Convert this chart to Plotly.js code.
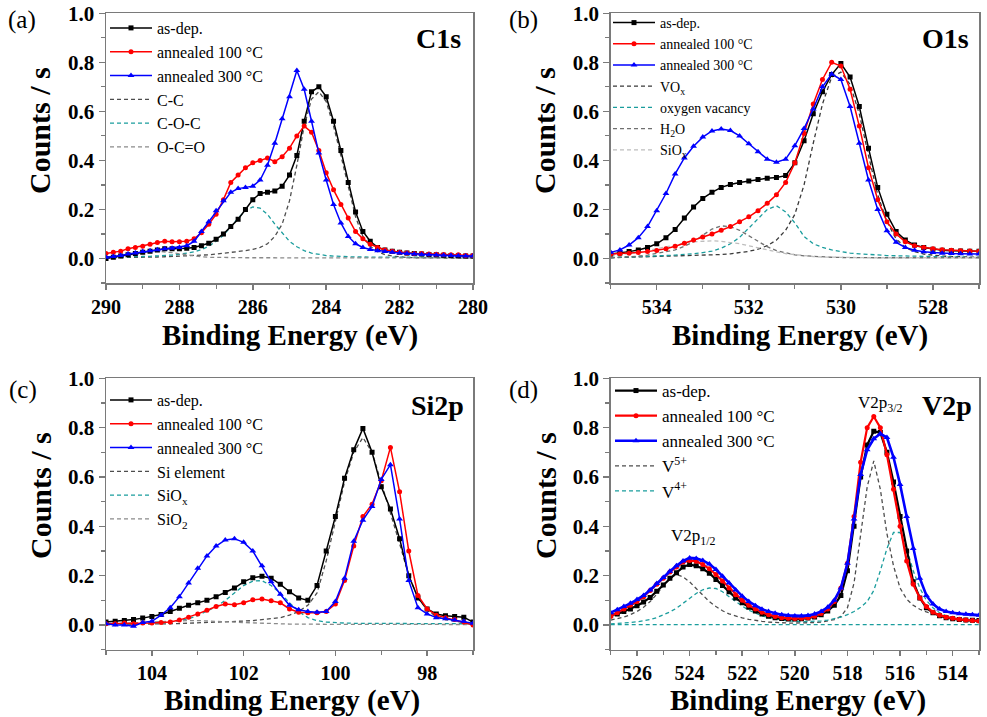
<!DOCTYPE html>
<html>
<head>
<meta charset="utf-8">
<script src="https://cdn.plot.ly/plotly-3.0.1.min.js"></script>
<style>
  html, body { margin: 0; padding: 0; background: #fff; }
  #chart { width: 987px; height: 717px; }
</style>
</head>
<body>
<div id="chart"></div>
<script>
// ---------- C1s ----------
const c1sEnergy = [290,289.8,289.6,289.4,289.2,289,288.8,288.6,288.4,288.2,288,287.8,287.6,287.4,287.2,287,286.8,286.6,286.4,286.2,286,285.8,285.6,285.4,285.2,285,284.8,284.6,284.4,284.2,284,283.8,283.6,283.4,283.2,283,282.8,282.6,282.4,282.2,282,281.8,281.6,281.4,281.2,281,280.8,280.6,280.4,280.2,280];
const c1sAsDep = [0.0,0.005,0.01,0.015,0.02,0.025,0.03,0.035,0.04,0.04,0.04,0.042,0.045,0.052,0.062,0.078,0.10,0.13,0.16,0.20,0.24,0.265,0.27,0.275,0.295,0.34,0.42,0.56,0.68,0.70,0.66,0.56,0.44,0.31,0.19,0.11,0.07,0.045,0.035,0.03,0.025,0.022,0.02,0.018,0.016,0.015,0.013,0.012,0.011,0.01,0.01];
const c1sAnn100 = [0.02,0.025,0.03,0.04,0.045,0.05,0.058,0.065,0.07,0.068,0.068,0.07,0.08,0.105,0.14,0.18,0.24,0.31,0.34,0.37,0.39,0.40,0.41,0.395,0.415,0.45,0.50,0.54,0.515,0.44,0.35,0.28,0.22,0.165,0.11,0.08,0.058,0.045,0.035,0.03,0.025,0.022,0.02,0.02,0.018,0.017,0.016,0.015,0.015,0.012,0.012];
const c1sAnn300 = [0.005,0.008,0.012,0.018,0.022,0.028,0.032,0.036,0.04,0.042,0.045,0.052,0.07,0.11,0.15,0.195,0.235,0.27,0.285,0.29,0.295,0.32,0.38,0.47,0.57,0.66,0.767,0.69,0.56,0.43,0.32,0.22,0.145,0.09,0.06,0.045,0.037,0.032,0.028,0.025,0.022,0.02,0.018,0.016,0.015,0.014,0.013,0.012,0.011,0.01,0.01];
const c1sFitCC = [0.003,0.003,0.004,0.004,0.005,0.005,0.006,0.006,0.007,0.008,0.009,0.01,0.011,0.013,0.015,0.018,0.021,0.024,0.028,0.032,0.037,0.045,0.06,0.09,0.14,0.235,0.38,0.54,0.65,0.68,0.64,0.54,0.42,0.29,0.17,0.09,0.05,0.028,0.016,0.01,0.006,0.004,0.003,0.003,0.002,0.002,0.002,0.002,0.001,0.001,0.001];
const c1sFitCOC = [0.005,0.005,0.006,0.006,0.007,0.008,0.009,0.01,0.012,0.014,0.017,0.021,0.027,0.036,0.05,0.07,0.095,0.13,0.165,0.195,0.21,0.205,0.18,0.14,0.105,0.07,0.048,0.032,0.022,0.016,0.012,0.01,0.008,0.007,0.006,0.006,0.005,0.005,0.005,0.005,0.005,0.005,0.005,0.005,0.005,0.005,0.005,0.005,0.005,0.005,0.005];
const c1sFitOCO = [0.004,0.006,0.009,0.013,0.018,0.023,0.027,0.029,0.028,0.024,0.019,0.014,0.01,0.007,0.005,0.004,0.003,0.003,0.003,0.003,0.003,0.003,0.003,0.003,0.003,0.003,0.003,0.003,0.003,0.003,0.003,0.003,0.003,0.003,0.003,0.002,0.002,0.002,0.002,0.002,0.002,0.002,0.002,0.002,0.002,0.002,0.002,0.002,0.002,0.002,0.002];

// ---------- O1s ----------
const o1sEnergy = [535,534.8,534.6,534.4,534.2,534,533.8,533.6,533.4,533.2,533,532.8,532.6,532.4,532.2,532,531.8,531.6,531.4,531.2,531,530.8,530.6,530.4,530.2,530,529.8,529.6,529.4,529.2,529,528.8,528.6,528.4,528.2,528,527.8,527.6,527.4,527.2,527];
const o1sAsDep = [0.018,0.022,0.028,0.035,0.045,0.06,0.085,0.118,0.165,0.21,0.245,0.27,0.29,0.302,0.31,0.316,0.322,0.327,0.33,0.338,0.39,0.48,0.59,0.68,0.75,0.795,0.74,0.62,0.45,0.29,0.18,0.11,0.075,0.055,0.045,0.038,0.034,0.032,0.031,0.03,0.029];
const o1sAnn100 = [0.018,0.019,0.021,0.024,0.028,0.033,0.04,0.05,0.062,0.075,0.088,0.10,0.115,0.13,0.15,0.17,0.195,0.225,0.26,0.31,0.39,0.51,0.63,0.73,0.80,0.785,0.69,0.54,0.37,0.24,0.15,0.10,0.068,0.052,0.045,0.04,0.036,0.034,0.032,0.031,0.03];
const o1sAnn300 = [0.025,0.035,0.055,0.085,0.13,0.195,0.265,0.345,0.41,0.458,0.495,0.52,0.528,0.522,0.5,0.468,0.435,0.405,0.393,0.405,0.46,0.53,0.61,0.70,0.752,0.73,0.62,0.47,0.32,0.20,0.113,0.066,0.045,0.034,0.027,0.024,0.021,0.02,0.019,0.018,0.018];
const o1sFitVOx = [0.003,0.004,0.004,0.005,0.005,0.006,0.007,0.008,0.009,0.01,0.011,0.013,0.016,0.019,0.023,0.029,0.038,0.052,0.075,0.115,0.18,0.30,0.47,0.63,0.74,0.76,0.71,0.59,0.42,0.26,0.15,0.08,0.045,0.028,0.018,0.013,0.01,0.008,0.007,0.006,0.005];
const o1sFitVacancy = [0.004,0.005,0.006,0.007,0.008,0.01,0.012,0.014,0.016,0.019,0.024,0.03,0.042,0.06,0.086,0.125,0.165,0.2,0.215,0.19,0.145,0.09,0.06,0.045,0.035,0.028,0.022,0.019,0.016,0.014,0.012,0.011,0.01,0.009,0.008,0.007,0.006,0.006,0.005,0.005,0.004];
const o1sFitH2O = [0.003,0.004,0.006,0.009,0.014,0.02,0.027,0.035,0.05,0.068,0.095,0.12,0.133,0.13,0.115,0.093,0.068,0.048,0.032,0.022,0.015,0.011,0.008,0.006,0.005,0.004,0.003,0.003,0.003,0.003,0.003,0.003,0.003,0.003,0.003,0.003,0.003,0.003,0.003,0.003,0.003];
const o1sFitSiOx = [0.01,0.014,0.019,0.025,0.032,0.04,0.048,0.056,0.063,0.068,0.071,0.072,0.07,0.066,0.06,0.052,0.043,0.035,0.027,0.02,0.015,0.011,0.008,0.006,0.005,0.004,0.003,0.003,0.003,0.003,0.003,0.003,0.003,0.003,0.003,0.003,0.003,0.003,0.003,0.003,0.003];

// ---------- Si2p ----------
const si2pEnergy = [105,104.8,104.6,104.4,104.2,104,103.8,103.6,103.4,103.2,103,102.8,102.6,102.4,102.2,102,101.8,101.6,101.4,101.2,101,100.8,100.6,100.4,100.2,100,99.8,99.6,99.4,99.2,99,98.8,98.6,98.4,98.2,98,97.8,97.6,97.4,97.2,97];
const si2pAsDep = [0.012,0.015,0.018,0.022,0.028,0.035,0.043,0.055,0.068,0.08,0.09,0.10,0.115,0.132,0.15,0.175,0.192,0.198,0.19,0.165,0.135,0.11,0.10,0.16,0.30,0.44,0.595,0.71,0.797,0.70,0.56,0.47,0.35,0.20,0.11,0.065,0.045,0.038,0.035,0.032,0.012];
const si2pAnn100 = [0.005,0.005,0.008,0.005,0.008,0.008,0.01,0.012,0.02,0.032,0.045,0.06,0.075,0.085,0.082,0.09,0.102,0.105,0.098,0.09,0.065,0.052,0.05,0.05,0.055,0.085,0.18,0.32,0.44,0.49,0.585,0.72,0.54,0.30,0.12,0.065,0.04,0.03,0.022,0.012,0.0];
const si2pAnn300 = [0.005,0.0,0.0,-0.005,0.01,0.015,0.04,0.07,0.115,0.17,0.23,0.28,0.32,0.345,0.35,0.335,0.30,0.24,0.175,0.125,0.08,0.062,0.055,0.052,0.055,0.095,0.19,0.34,0.425,0.48,0.59,0.65,0.43,0.18,0.07,0.045,0.03,0.025,0.02,0.015,0.007];
const si2pFitSi = [0.002,0.002,0.003,0.003,0.004,0.004,0.005,0.005,0.006,0.007,0.008,0.009,0.01,0.012,0.014,0.016,0.018,0.021,0.025,0.03,0.04,0.055,0.08,0.13,0.26,0.42,0.58,0.70,0.76,0.70,0.58,0.46,0.33,0.20,0.11,0.06,0.035,0.022,0.015,0.01,0.007];
const si2pFitSiOx = [0.003,0.003,0.004,0.005,0.006,0.008,0.01,0.013,0.018,0.026,0.038,0.055,0.075,0.10,0.13,0.16,0.178,0.18,0.16,0.13,0.09,0.055,0.03,0.018,0.012,0.009,0.008,0.007,0.007,0.007,0.006,0.006,0.006,0.006,0.006,0.005,0.005,0.005,0.005,0.005,0.005];
const si2pFitSiO2 = [0.004,0.005,0.006,0.008,0.01,0.012,0.014,0.016,0.017,0.018,0.018,0.017,0.016,0.014,0.012,0.01,0.008,0.007,0.006,0.005,0.004,0.003,0.003,0.003,0.003,0.003,0.003,0.002,0.002,0.002,0.002,0.002,0.002,0.002,0.002,0.002,0.002,0.002,0.002,0.002,0.002];

// ---------- V2p ----------
const v2pEnergy = [527,526.75,526.5,526.25,526,525.75,525.5,525.25,525,524.75,524.5,524.25,524,523.75,523.5,523.25,523,522.75,522.5,522.25,522,521.75,521.5,521.25,521,520.75,520.5,520.25,520,519.75,519.5,519.25,519,518.75,518.5,518.25,518,517.75,517.5,517.25,517,516.75,516.5,516.25,516,515.75,515.5,515.25,515,514.75,514.5,514.25,514,513.75,513.5,513.25,513];
const v2pAsDep = [0.04,0.045,0.055,0.065,0.078,0.093,0.112,0.137,0.162,0.19,0.212,0.235,0.245,0.24,0.228,0.21,0.185,0.16,0.135,0.11,0.09,0.072,0.057,0.045,0.036,0.03,0.026,0.024,0.024,0.025,0.028,0.033,0.042,0.057,0.08,0.12,0.22,0.40,0.60,0.73,0.785,0.78,0.70,0.58,0.44,0.30,0.175,0.11,0.07,0.05,0.038,0.03,0.025,0.022,0.02,0.019,0.018];
const v2pAnn100 = [0.035,0.05,0.065,0.08,0.095,0.115,0.14,0.165,0.19,0.215,0.235,0.255,0.262,0.258,0.245,0.228,0.205,0.178,0.15,0.123,0.1,0.08,0.065,0.052,0.042,0.035,0.03,0.027,0.026,0.027,0.03,0.036,0.047,0.065,0.095,0.15,0.25,0.44,0.66,0.80,0.845,0.80,0.69,0.55,0.40,0.26,0.165,0.11,0.075,0.052,0.04,0.032,0.027,0.023,0.02,0.018,0.016];
const v2pAnn300 = [0.05,0.062,0.075,0.088,0.103,0.12,0.142,0.168,0.193,0.218,0.24,0.26,0.272,0.27,0.262,0.247,0.225,0.198,0.17,0.142,0.117,0.095,0.078,0.064,0.055,0.048,0.042,0.039,0.037,0.037,0.039,0.045,0.055,0.072,0.1,0.15,0.25,0.43,0.61,0.71,0.755,0.775,0.76,0.68,0.57,0.44,0.31,0.19,0.12,0.085,0.065,0.055,0.05,0.046,0.044,0.042,0.04];
const v2pFitV5 = [0.02,0.025,0.032,0.042,0.055,0.072,0.095,0.125,0.16,0.19,0.205,0.195,0.175,0.148,0.12,0.095,0.075,0.058,0.045,0.036,0.029,0.023,0.018,0.015,0.012,0.01,0.009,0.008,0.008,0.008,0.009,0.01,0.012,0.016,0.022,0.035,0.07,0.17,0.36,0.56,0.665,0.55,0.37,0.24,0.15,0.105,0.08,0.064,0.053,0.044,0.037,0.031,0.026,0.022,0.019,0.016,0.014];
const v2pFitV4 = [0.005,0.006,0.008,0.01,0.013,0.017,0.022,0.03,0.04,0.053,0.068,0.087,0.108,0.128,0.143,0.15,0.148,0.135,0.115,0.095,0.077,0.06,0.047,0.037,0.03,0.024,0.02,0.017,0.015,0.014,0.014,0.015,0.017,0.02,0.025,0.032,0.042,0.055,0.072,0.095,0.14,0.22,0.31,0.375,0.375,0.31,0.22,0.15,0.1,0.07,0.05,0.037,0.028,0.022,0.018,0.015,0.013];
const v2pBackgroundE = [527, 513];
const v2pBackground = [0.002, 0.002];

// ---------- styling helpers ----------
const SERIF = 'Liberation Serif, Times New Roman, DejaVu Serif, serif';
const W = 987, H = 717;
const px = v => v / W;
const py = v => 1 - v / H;

const DARK = '#4d4d4d', TEAL = '#1a9d9d', MID = '#8a8a8a', LIGHT = '#bdbdbd';
const FIT_DASH = '4px,3px';

function sample(x, y, name, color, symbol, axes, legend, rank, opts) {
  opts = opts || {};
  return {
    type: 'scatter', mode: 'lines+markers', x, y, name,
    xaxis: axes[0], yaxis: axes[1], legend, legendrank: rank,
    line: { color, width: opts.lw || 1.5 },
    marker: { color, symbol, size: opts.ms || 5 }
  };
}

function fit(x, y, name, color, axes, legend, rank, showlegend) {
  return {
    type: 'scatter', mode: 'lines', x, y, name,
    xaxis: axes[0], yaxis: axes[1], legend, legendrank: rank,
    showlegend: showlegend !== false,
    line: { color, width: 1.3, dash: FIT_DASH }
  };
}

const A = ['x', 'y'], B = ['x2', 'y2'], C = ['x3', 'y3'], D = ['x4', 'y4'];

const traces = [
  // fitted components first so the measured curves sit on top
  fit(c1sEnergy, c1sFitCC, 'C-C', DARK, A, 'legend', 4),
  fit(c1sEnergy, c1sFitCOC, 'C-O-C', TEAL, A, 'legend', 5),
  fit(c1sEnergy, c1sFitOCO, 'O-C=O', MID, A, 'legend', 6),
  sample(c1sEnergy, c1sAsDep, 'as-dep.', '#000000', 'square', A, 'legend', 1),
  sample(c1sEnergy, c1sAnn100, 'annealed 100 °C', '#ff0000', 'circle', A, 'legend', 2),
  sample(c1sEnergy, c1sAnn300, 'annealed 300 °C', '#0000ff', 'triangle-up', A, 'legend', 3, { ms: 6 }),

  fit(o1sEnergy, o1sFitVOx, 'VO<sub>x</sub>', '#3a3a3a', B, 'legend2', 4),
  fit(o1sEnergy, o1sFitVacancy, 'oxygen vacancy', TEAL, B, 'legend2', 5),
  fit(o1sEnergy, o1sFitH2O, 'H<sub>2</sub>O', '#707070', B, 'legend2', 6),
  fit(o1sEnergy, o1sFitSiOx, 'SiO<sub>x</sub>', LIGHT, B, 'legend2', 7),
  sample(o1sEnergy, o1sAsDep, 'as-dep.', '#000000', 'square', B, 'legend2', 1),
  sample(o1sEnergy, o1sAnn100, 'annealed 100 °C', '#ff0000', 'circle', B, 'legend2', 2),
  sample(o1sEnergy, o1sAnn300, 'annealed 300 °C', '#0000ff', 'triangle-up', B, 'legend2', 3, { ms: 6 }),

  fit(si2pEnergy, si2pFitSi, 'Si element', DARK, C, 'legend3', 4),
  fit(si2pEnergy, si2pFitSiOx, 'SiO<sub>x</sub>', TEAL, C, 'legend3', 5),
  fit(si2pEnergy, si2pFitSiO2, 'SiO<sub>2</sub>', MID, C, 'legend3', 6),
  sample(si2pEnergy, si2pAsDep, 'as-dep.', '#000000', 'square', C, 'legend3', 1),
  sample(si2pEnergy, si2pAnn100, 'annealed 100 °C', '#ff0000', 'circle', C, 'legend3', 2),
  sample(si2pEnergy, si2pAnn300, 'annealed 300 °C', '#0000ff', 'triangle-up', C, 'legend3', 3, { ms: 6 }),

  fit(v2pBackgroundE, v2pBackground, 'background', TEAL, D, 'legend4', 9, false),
  fit(v2pEnergy, v2pFitV5, 'V<sup>5+</sup>', DARK, D, 'legend4', 4),
  fit(v2pEnergy, v2pFitV4, 'V<sup>4+</sup>', TEAL, D, 'legend4', 5),
  sample(v2pEnergy, v2pAsDep, 'as-dep.', '#000000', 'square', D, 'legend4', 1, { lw: 2.2 }),
  sample(v2pEnergy, v2pAnn100, 'annealed 100 °C', '#ff0000', 'circle', D, 'legend4', 2, { lw: 2.2 }),
  sample(v2pEnergy, v2pAnn300, 'annealed 300 °C', '#0000ff', 'triangle-up', D, 'legend4', 3, { lw: 2.6, ms: 6 })
];

const AXIS_GREY = '#7a7a7a';
const tickFont = { family: SERIF, size: 20, color: '#000', weight: 'bold' };

function xAxis(domain, range, anchor) {
  return {
    domain, range, anchor, autorange: false,
    tick0: 0, dtick: 2, ticks: 'outside', ticklen: 5, tickwidth: 1.5, tickcolor: AXIS_GREY,
    minor: { dtick: 1, ticks: 'outside', ticklen: 4, tickwidth: 1.2, tickcolor: AXIS_GREY },
    showline: true, linecolor: AXIS_GREY, linewidth: 1.5, mirror: true,
    showgrid: false, zeroline: false, tickfont: tickFont
  };
}
function yAxis(domain, anchor) {
  return {
    domain, range: [-0.1, 1.0], anchor, autorange: false,
    tick0: 0, dtick: 0.2, tickformat: '.1f',
    ticks: 'outside', ticklen: 6, tickwidth: 1.5, tickcolor: AXIS_GREY,
    minor: { dtick: 0.1, ticks: 'outside', ticklen: 4, tickwidth: 1.2, tickcolor: AXIS_GREY },
    showline: true, linecolor: AXIS_GREY, linewidth: 1.5, mirror: true,
    showgrid: false, zeroline: false, tickfont: Object.assign({}, tickFont, { size: 21 })
  };
}
function legendBox(xpx, ypx, size) {
  return {
    x: px(xpx), y: py(ypx), xanchor: 'left', yanchor: 'top',
    bgcolor: 'rgba(0,0,0,0)', borderwidth: 0, traceorder: 'normal',
    itemwidth: 42, tracegroupgap: 0,
    font: { family: SERIF, size, color: '#000' }
  };
}

const topRow = [py(283), py(13.3)];
const bottomRow = [py(649.7), py(378.3)];
const leftCol = [px(106), px(473)];
const rightCol = [px(610.7), px(979)];

function label(text, x, y, size, bold, extra) {
  return Object.assign({
    text, x: px(x), y: py(y), xref: 'paper', yref: 'paper', showarrow: false,
    xanchor: 'center', yanchor: 'middle',
    font: { family: SERIF, size, color: '#000', weight: bold ? 'bold' : 'normal' }
  }, extra || {});
}

const annotations = [
  label('(a)', 22, 20, 25, false), label('(b)', 523, 20, 25, false),
  label('(c)', 23, 390, 25, false), label('(d)', 523, 390, 25, false),
  label('C1s', 438, 39, 28, true), label('O1s', 945, 39, 28, true),
  label('Si2p', 437, 405, 28, true), label('V2p', 947, 405, 28, true),
  label('V2p<sub>3/2</sub>', 880, 404, 17, false),
  label('V2p<sub>1/2</sub>', 693, 537, 17, false),
  label('Counts / s', 40, 131, 30, true, { textangle: -90 }),
  label('Counts / s', 545, 131, 30, true, { textangle: -90 }),
  label('Counts / s', 40, 496, 30, true, { textangle: -90 }),
  label('Counts / s', 545, 496, 30, true, { textangle: -90 }),
  label('Binding Energy (eV)', 290, 335, 29, true),
  label('Binding Energy (eV)', 800, 335, 29, true),
  label('Binding Energy (eV)', 292, 700, 29, true),
  label('Binding Energy (eV)', 798, 700, 29, true)
];

const layout = {
  width: W, height: H, autosize: false,
  margin: { l: 0, r: 0, t: 0, b: 0 },
  paper_bgcolor: '#ffffff', plot_bgcolor: '#ffffff',
  font: { family: SERIF, color: '#000' },
  xaxis: xAxis(leftCol, [290, 280], 'y'),
  yaxis: yAxis(topRow, 'x'),
  xaxis2: xAxis(rightCol, [535, 527], 'y2'),
  yaxis2: yAxis(topRow, 'x2'),
  xaxis3: xAxis(leftCol, [105, 97], 'y3'),
  yaxis3: yAxis(bottomRow, 'x3'),
  xaxis4: xAxis(rightCol, [527, 513], 'y4'),
  yaxis4: yAxis(bottomRow, 'x4'),
  legend: legendBox(105, 11, 16),
  legend2: legendBox(608, 7, 14),
  legend3: legendBox(105, 383, 16),
  legend4: legendBox(610, 373, 17),
  annotations,
  showlegend: true
};

Plotly.newPlot('chart', traces, layout, { staticPlot: true, displayModeBar: false });
</script>
</body>
</html>
